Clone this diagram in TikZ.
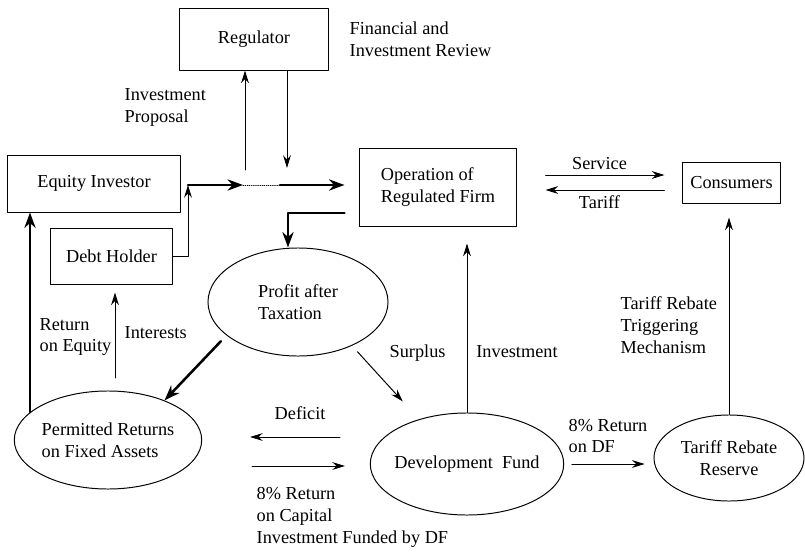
\documentclass[tikz,border=0pt]{standalone}
\usepackage{fontspec}
\setmainfont{Liberation Serif}
\usetikzlibrary{arrows.meta,shapes.geometric}

\begin{document}
\begin{tikzpicture}[line cap=round,line join=round,>={Stealth[length=9pt,width=5.5pt]},x=0.025cm,y=-0.025cm,
  every node/.style={font=\fontsize{13}{15.6}\selectfont},
  box/.style={draw,line width=0.7pt,inner sep=0pt},
  oval/.style={draw,ellipse,line width=0.7pt,inner sep=0pt},
  flow/.style={->,line width=0.7pt},
  bigflow/.style={-{Stealth[length=11pt,width=8pt]},line width=1.8pt},
  lbl/.style={anchor=west,align=left,inner sep=1pt}]
\useasboundingbox (0,0) rectangle (805,553);
\node[box,minimum width=3.7cm,minimum height=1.55cm] (reg) at (254,39) {Regulator};
\node[box,minimum width=4.3cm,minimum height=1.425cm] (eq) at (94,183.5) {Equity Investor};
\node[box,minimum width=3.025cm,minimum height=1.4cm] (debt) at (111.5,256) {Debt Holder};
\node[box,minimum width=3.9cm,minimum height=1.95cm,align=left] (op) at (438,187) {Operation of\\Regulated Firm};
\node[box,minimum width=2.425cm,minimum height=1.025cm] (cons) at (731.5,182.5) {Consumers};
\node[oval,minimum width=4.5cm,minimum height=2.7cm,align=left] (profit) at (298,302) {Profit after\\Taxation};
\node[oval,minimum width=4.65cm,minimum height=2.45cm,align=left] (perm) at (108,440) {Permitted Returns\\on Fixed Assets};
\node[oval,minimum width=4.625cm,minimum height=2.55cm,inner xsep=-3pt] (df) at (467,464) {Development\ \ Fund};
\node[oval,minimum width=3.75cm,minimum height=2.15cm,align=center] (reb) at (729,458) {Tariff Rebate\\Reserve};
\coordinate (jn) at (188,185);
\coordinate (mixL) at (243,185);
\coordinate (mixR) at (280,185);
\coordinate (prop) at (245,170);
\coordinate (rev) at (287,168);
\coordinate (roe) at (30,412);
\coordinate (int) at (115,378);
\coordinate (defA) at (340,437);
\coordinate (defB) at (250,437);
\coordinate (capA) at (252,466);
\coordinate (capB) at (345,466);
\draw[flow] (prop) -- (prop |- reg.south);
\draw[flow] (reg.south -| rev) -- (rev);
\draw[bigflow] (jn) -- (mixL);
\draw[densely dotted,line width=0.5pt] (mixL) -- (mixR);
\draw[bigflow,shorten >=0.375cm] (mixR) -- (mixR -| op.west);
\draw[flow] (debt.east) -| (jn);
\draw[bigflow] ([xshift=-0.375cm,yshift=-0.65cm]op.west) -| ([xshift=-0.25cm]profit.north);
\draw[flow,shorten <=0.725cm,shorten >=0.45cm] ([yshift=0.3cm]op.east) -- ([yshift=0.3cm]op.east -| cons.west) node[midway,above] {Service};
\draw[flow,shorten <=0.45cm,shorten >=0.725cm] ([yshift=-0.075cm]op.east -| cons.west) -- ([yshift=-0.075cm]op.east) node[midway,below] {Tariff};
\draw[flow,shorten >=0.425cm] (df.north) -- (df.north |- op.south) node[pos=0.33,right=3pt] {Investment};
\draw[flow,shorten >=0.35cm] (reb.north) -- (reb.north |- cons.south);
\draw[flow,shorten <=0.19cm,shorten >=0.22cm] (df.east) -- (df.east -| reb.west);
\draw[flow,shorten <=0.2cm,shorten >=0.6cm] (profit.-39) -- (df.137);
\draw[bigflow,shorten <=0.2cm] (profit.205) -- (perm.35);
\draw[bigflow] (roe) -- (roe |- eq.south);
\draw[flow,shorten >=0.2cm] (int) -- (int |- debt.south);
\draw[flow] (defA) -- (defB);
\draw[flow] (capA) -- (capB);
\node[lbl] (finrev) at (348,39) {Financial and\\Investment Review};
\node[lbl] (proplbl) at (123,107) {Investment\\Proposal};
\node[lbl] (roelbl) at (38,337) {Return\\on Equity};
\node[lbl] (intlbl) at (123,333) {Interests};
\node[lbl] (surlbl) at (388,353) {Surplus};
\node[lbl] (deflbl) at (273,413) {Deficit};
\node[lbl] (caplbl) at (255,517) {8\% Return\\on Capital\\Investment Funded by DF};
\node[lbl] (dflbl) at (567,436) {8\% Return\\on DF};
\node[lbl] (triglbl) at (619,325) {Tariff Rebate\\Triggering\\Mechanism};
\end{tikzpicture}
\end{document}
